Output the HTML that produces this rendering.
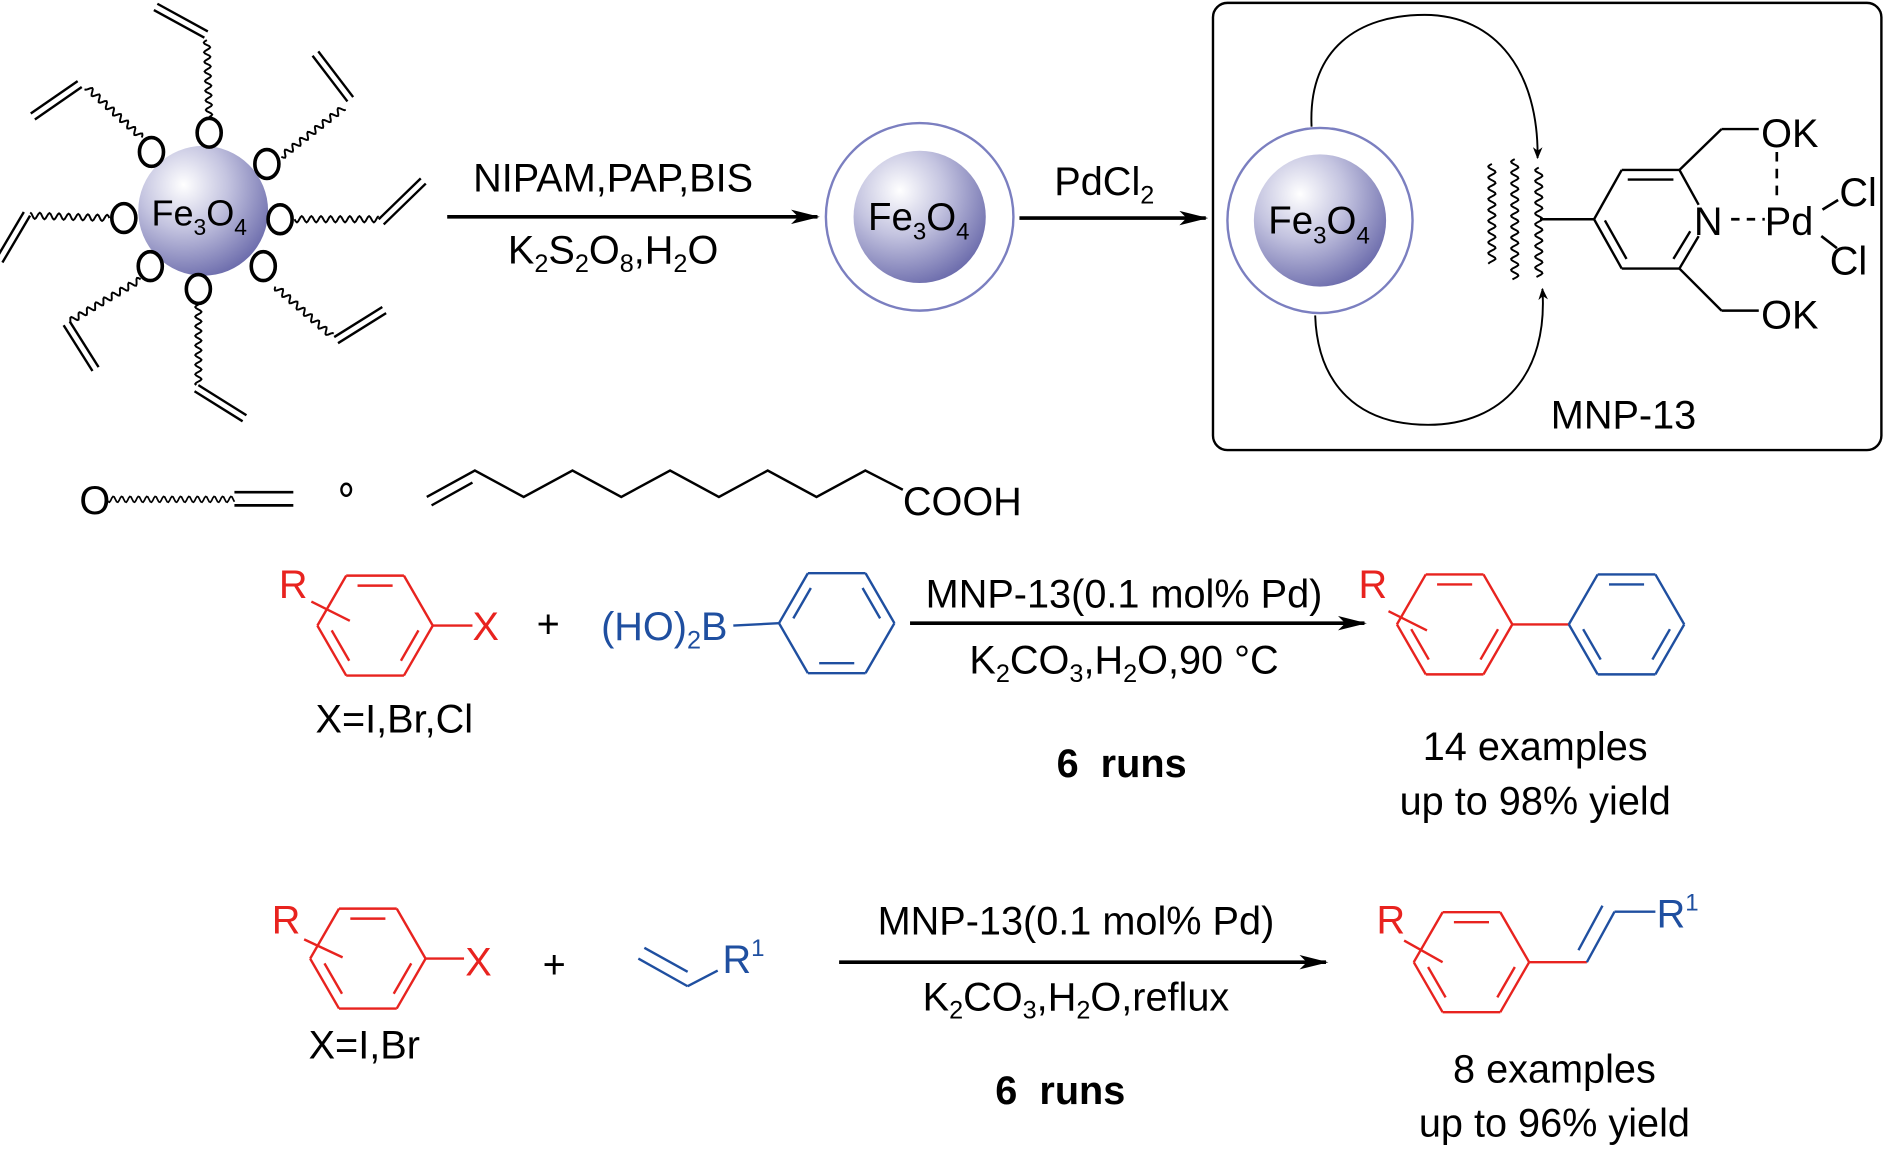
<!DOCTYPE html>
<html><head><meta charset="utf-8"><style>
html,body{margin:0;padding:0;background:#fff;}
svg{display:block;}
text{font-family:"Liberation Sans",Arial,sans-serif;}
</style></head><body>
<svg id="s" width="1885" height="1149" viewBox="0 0 1568 955" xmlns="http://www.w3.org/2000/svg">
<defs>
<radialGradient id="g" cx="0.35" cy="0.3" r="0.75">
<stop offset="0" stop-color="#ffffff"/>
<stop offset="0.45" stop-color="#c4c4e0"/>
<stop offset="1" stop-color="#6c6cac"/>
</radialGradient>
<marker id="ah" markerWidth="10" markerHeight="8" refX="9" refY="4" orient="auto" markerUnits="userSpaceOnUse">
<path d="M0,0 L10,4 L0,8 L3,4 z" fill="#000"/>
</marker>
<marker id="ah2" markerWidth="24" markerHeight="12" refX="22" refY="6" orient="auto" markerUnits="userSpaceOnUse">
<path d="M0,0 L24,6 L0,12 L6,6 z" fill="#000"/>
</marker>
</defs>
<g id="draw" fill="none" stroke="#000" stroke-width="2"></g>

<!-- left particle -->
<circle cx="169" cy="175" r="54" fill="url(#g)"/>
<g fill="none" stroke="#000" stroke-width="3">
<ellipse cx="174" cy="110" rx="10" ry="12"/>
<ellipse cx="126" cy="126" rx="10" ry="12"/>
<ellipse cx="222" cy="136" rx="10" ry="12"/>
<ellipse cx="103" cy="181" rx="10" ry="12"/>
<ellipse cx="233" cy="182" rx="10" ry="12"/>
<ellipse cx="125" cy="221" rx="10" ry="12"/>
<ellipse cx="219" cy="221" rx="10" ry="12"/>
<ellipse cx="165" cy="240" rx="10" ry="12"/>
</g>
<text x="126" y="187" font-size="30">Fe<tspan font-size="19" dy="8">3</tspan><tspan dy="-8">O</tspan><tspan font-size="19" dy="8">4</tspan></text>

<!-- arrow 1 -->
<line x1="372" y1="180" x2="680" y2="180" stroke="#000" stroke-width="3" marker-end="url(#ah2)"/>
<text x="510" y="159" font-size="33" text-anchor="middle">NIPAM,PAP,BIS</text>
<text x="510" y="219" font-size="33" text-anchor="middle">K<tspan font-size="21" dy="7">2</tspan><tspan dy="-7">S</tspan><tspan font-size="21" dy="7">2</tspan><tspan dy="-7">O</tspan><tspan font-size="21" dy="7">8</tspan><tspan dy="-7">,H</tspan><tspan font-size="21" dy="7">2</tspan><tspan dy="-7">O</tspan></text>

<!-- particle 2 -->
<circle cx="765" cy="180" r="78" fill="none" stroke="#7b7fc0" stroke-width="2"/>
<circle cx="765" cy="180" r="55" fill="url(#g)"/>
<text x="722" y="191" font-size="32">Fe<tspan font-size="20" dy="8">3</tspan><tspan dy="-8">O</tspan><tspan font-size="20" dy="8">4</tspan></text>

<!-- arrow 2 -->
<line x1="848" y1="181" x2="1003" y2="181" stroke="#000" stroke-width="3" marker-end="url(#ah2)"/>
<text x="877" y="162" font-size="33">PdCl<tspan font-size="21" dy="7">2</tspan></text>

<!-- box -->
<rect x="1009" y="2" width="556" height="372" rx="12" fill="none" stroke="#000" stroke-width="2"/>
<circle cx="1098" cy="183" r="77" fill="none" stroke="#7b7fc0" stroke-width="2"/>
<circle cx="1098" cy="183" r="55" fill="url(#g)"/>
<text x="1055" y="194" font-size="32">Fe<tspan font-size="20" dy="8">3</tspan><tspan dy="-8">O</tspan><tspan font-size="20" dy="8">4</tspan></text>
<path d="M1091,105 C1088,40 1130,12 1185,12 C1245,12 1280,60 1279,131" fill="none" stroke="#000" stroke-width="1.6" marker-end="url(#ah)"/>
<path d="M1094,262 C1096,320 1130,353 1188,353 C1250,353 1288,310 1283,240" fill="none" stroke="#000" stroke-width="1.6" marker-end="url(#ah)"/>
<text x="1409" y="195" font-size="33">N</text>
<text x="1468" y="195" font-size="33">Pd</text>
<text x="1465" y="122" font-size="33">OK</text>
<text x="1465" y="273" font-size="33">OK</text>
<text x="1530" y="171" font-size="33">Cl</text>
<text x="1522" y="228" font-size="33">Cl</text>
<text x="1290" y="356" font-size="33">MNP-13</text>
<g stroke="#000" stroke-width="2.2" fill="none">
<line x1="1440" y1="182" x2="1468" y2="182" stroke-dasharray="7,6"/>
<line x1="1478" y1="126" x2="1478" y2="168" stroke-dasharray="8,6"/>
<line x1="1516" y1="174" x2="1529" y2="166"/>
<line x1="1515" y1="196" x2="1528" y2="206"/>
</g>

<!-- small row -->
<text x="66" y="427" font-size="33">O</text>
<ellipse cx="288" cy="407" rx="4" ry="5" fill="none" stroke="#000" stroke-width="2"/>
<text x="751" y="428" font-size="33">COOH</text>

<!-- reaction 1 -->
<text x="232" y="497" font-size="33" fill="#e8231f">R</text>
<text x="393" y="532" font-size="33" fill="#e8231f">X</text>
<text x="456" y="530" font-size="33" text-anchor="middle">+</text>
<text x="500" y="532" font-size="33" fill="#1f4fa0">(HO)<tspan font-size="21" dy="7">2</tspan><tspan dy="-7">B</tspan></text>
<line x1="757" y1="518" x2="1135" y2="518" stroke="#000" stroke-width="3" marker-end="url(#ah2)"/>
<text x="935" y="505" font-size="33" text-anchor="middle">MNP-13(0.1 mol% Pd)</text>
<text x="935" y="560" font-size="33" text-anchor="middle">K<tspan font-size="21" dy="7">2</tspan><tspan dy="-7">CO</tspan><tspan font-size="21" dy="7">3</tspan><tspan dy="-7">,H</tspan><tspan font-size="21" dy="7">2</tspan><tspan dy="-7">O,90 °C</tspan></text>
<text x="328" y="609" font-size="33" text-anchor="middle">X=I,Br,Cl</text>
<text x="933" y="646" font-size="33" font-weight="bold" text-anchor="middle" xml:space="preserve">6  runs</text>
<text x="1130" y="497" font-size="33" fill="#e8231f">R</text>
<text x="1277" y="632" font-size="33" text-anchor="middle">14 examples</text>
<text x="1277" y="677" font-size="33" text-anchor="middle">up to 98% yield</text>

<!-- reaction 2 -->
<text x="226" y="776" font-size="33" fill="#e8231f">R</text>
<text x="387" y="811" font-size="33" fill="#e8231f">X</text>
<text x="461" y="813" font-size="33" text-anchor="middle">+</text>
<text x="601" y="809" font-size="33" fill="#1f4fa0">R<tspan font-size="20" dy="-14">1</tspan></text>
<line x1="698" y1="800" x2="1103" y2="800" stroke="#000" stroke-width="3" marker-end="url(#ah2)"/>
<text x="895" y="777" font-size="33" text-anchor="middle">MNP-13(0.1 mol% Pd)</text>
<text x="895" y="840" font-size="33" text-anchor="middle">K<tspan font-size="21" dy="7">2</tspan><tspan dy="-7">CO</tspan><tspan font-size="21" dy="7">3</tspan><tspan dy="-7">,H</tspan><tspan font-size="21" dy="7">2</tspan><tspan dy="-7">O,reflux</tspan></text>
<text x="303" y="880" font-size="33" text-anchor="middle">X=I,Br</text>
<text x="882" y="918" font-size="33" font-weight="bold" text-anchor="middle" xml:space="preserve">6  runs</text>
<text x="1145" y="776" font-size="33" fill="#e8231f">R</text>
<text x="1378" y="771" font-size="33" fill="#1f4fa0">R<tspan font-size="20" dy="-14">1</tspan></text>
<text x="1293" y="900" font-size="33" text-anchor="middle">8 examples</text>
<text x="1293" y="945" font-size="33" text-anchor="middle">up to 96% yield</text>

<script>
var NS="http://www.w3.org/2000/svg",G=document.getElementById("draw");
function el(t,a){var e=document.createElementNS(NS,t);for(var k in a)e.setAttribute(k,a[k]);G.appendChild(e);return e;}
function line(x1,y1,x2,y2,c,w){el("line",{x1:x1,y1:y1,x2:x2,y2:y2,stroke:c||"#000","stroke-width":w||2});}
function wavy(x1,y1,x2,y2,amp,wl,w){var dx=x2-x1,dy=y2-y1,L=Math.hypot(dx,dy),ux=dx/L,uy=dy/L,nx=-uy,ny=ux,d="";var n=Math.round(L/1);for(var i=0;i<=n;i++){var t=i/n*L,s=amp*Math.sin(t/wl*2*Math.PI);var x=x1+ux*t+nx*s,y=y1+uy*t+ny*s;d+=(i?"L":"M")+x.toFixed(1)+","+y.toFixed(1);}el("path",{d:d,stroke:"#000","stroke-width":w||1.6,fill:"none"});}
function dbl(x1,y1,x2,y2,off){var dx=x2-x1,dy=y2-y1,L=Math.hypot(dx,dy),nx=-dy/L*off,ny=dx/L*off;line(x1,y1,x2,y2,"#000",2);line(x1+nx,y1+ny,x2+nx,y2+ny,"#000",2);}
var ch=[[174,97,172,33,[170,31,128,8]],[118,114,72,72,[68,72,29,99]],[234,130,286,89,[289,84,260,46]],[91,181,25,179,[25,179,2,218]],[245,182,315,182,[315,182,350,148]],[117,232,58,267,[58,267,82,305]],[165,253,165,320,[165,320,205,345]],[229,238,276,279,[278,280,318,255]]];
ch.forEach(function(c){wavy(c[0],c[1],c[2],c[3],2.6,8,1.6);var b=c[4];dbl(b[0],b[1],b[2],b[3],6);});
wavy(89,415,195,415,2.5,7,1.4);
line(195,409,244,409,"#000",2.2);line(195,420,244,420,"#000",2.2);
var pts=[[355,413],[395,391]];for(var i=1;i<9;i++){pts.push([395+40.6*i,i%2?413:391]);}
var d="";pts.forEach(function(p,i){d+=(i?"L":"M")+p[0]+","+p[1];});d+="L751,407";
el("path",{d:d,stroke:"#000","stroke-width":2,fill:"none"});
line(359,420,393,401,"#000",2);
wavy(1241,136,1241,219,3,9,1.6);wavy(1260,132,1260,232,3,9,1.6);wavy(1280,139,1280,230,3,9,1.6);
line(1281,182,1326,182);
line(1326,182,1349,141);line(1349,141,1397,141);line(1397,141,1413,170);line(1413,196,1397,223);line(1397,223,1349,223);line(1349,223,1326,182);
line(1354,149,1392,149);line(1335,183,1353,215);line(1392,215,1406,192);
line(1397,141,1432,107);line(1432,107,1463,107);line(1397,223,1432,258);line(1432,258,1463,258);
function hex(cx,cy,r,col,inner){var v=[];for(var i=0;i<6;i++){var a=Math.PI/3*i;v.push([cx+r*Math.cos(a),cy-r*Math.sin(a)]);}
for(var i=0;i<6;i++){var a=v[i],b=v[(i+1)%6];line(a[0],a[1],b[0],b[1],col,2);}
inner.forEach(function(i){var a=v[i],b=v[(i+1)%6];var sh=0.2;var ax=a[0]+(cx-a[0])*sh,ay=a[1]+(cy-a[1])*sh,bx=b[0]+(cx-b[0])*sh,by=b[1]+(cy-b[1])*sh;var tx=(bx-ax)*0.12,ty=(by-ay)*0.12;line(ax+tx,ay+ty,bx-tx,by-ty,col,2);});return v;}
var R="#e8231f",B="#1f4fa0";
hex(312,520,48,R,[1,3,5]);line(360,520,393,520,R,2);line(259,500,291,516,R,2);
hex(696,518,48,B,[2,0,4]);line(610,520,648,518,B,2);
hex(1210,519,48,R,[1,3,5]);line(1258,519,1305,519,R,2);line(1155,508,1187,524,R,2);
hex(1353,519,48,B,[1,3,5]);
hex(306,797,48,R,[1,3,5]);line(354,797,386,797,R,2);line(253,781,285,796,R,2);
line(531,797,572,820,B,2);line(536,788,572,808,B,2);line(572,820,597,807,B,2);
hex(1224,800,48,R,[1,3,5]);line(1272,800,1320,800,R,2);
line(1320,800,1343,758,B,2);line(1313,790,1333,753,B,2);line(1343,758,1377,758,B,2);
line(1168,782,1200,800,R,2);
</script>
</svg>
</body></html>
